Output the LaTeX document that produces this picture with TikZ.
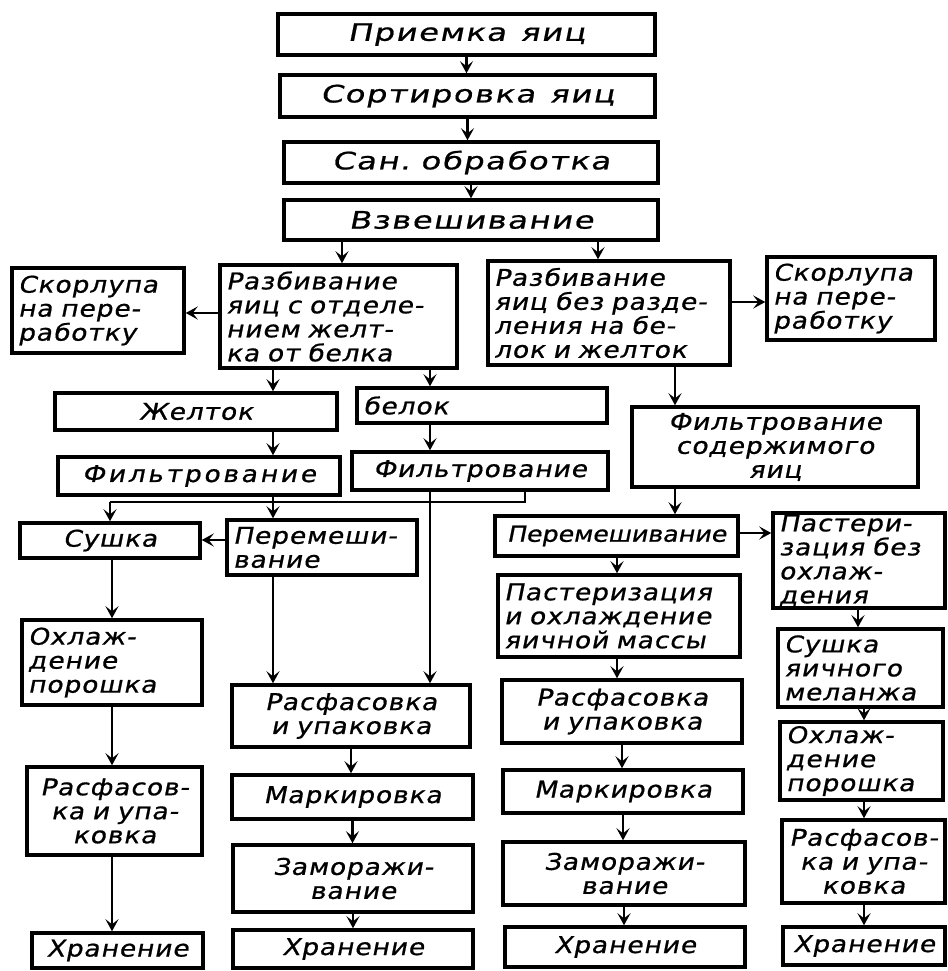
\documentclass[tikz,border=0pt]{standalone}
\usepackage{fontspec}
\setmainfont{DejaVu Sans}[FakeSlant=0.2,FakeStretch=1.15,LetterSpace=4,FakeBold=0.8]
\usetikzlibrary{arrows.meta}
\tikzset{
  box/.style={draw=black, line width=3.5pt, rectangle, inner xsep=6pt, inner ysep=1pt,
    font=\fontsize{23}{24}\selectfont, fill=white},
  widetext/.style={font=\fontsize{24}{24}\selectfont\addfontfeature{FakeStretch=1.35,LetterSpace=6}},
  ln/.style={line width=2.6pt},
  arr/.style={ln, -{Stealth[length=12pt,width=13pt,inset=5pt]}},
}
\newcommand\flowbox[7][]{%
  \pgfmathsetmacro\fbw{#5-#3}%
  \pgfmathsetmacro\fbh{#6-#4}%
  \pgfmathsetmacro\fbt{#5-#3-12}%
  \node[box, align=center, minimum width=\fbw pt, minimum height=\fbh pt,
    text width=\fbt pt, #1] (#2) at ({(#3+#5)/2},{(#4+#6)/2}) {#7};}
\begin{document}
\begin{tikzpicture}[x=1pt,y=-1pt]
\useasboundingbox[fill=white] (0,0) rectangle (947,971);
% boxes
\flowbox[widetext]{n1}{278}{14}{655}{55}{Приемка\hspace{14pt}яиц}
\flowbox[widetext]{n2}{280}{75}{655}{117}{Сортировка\hspace{14pt}яиц}
\flowbox[widetext]{n3}{284}{142}{658}{183}{Сан.\hspace{10pt}обработка}
\flowbox[widetext]{n4}{284}{200}{658}{240}{Взвешивание}
\flowbox[align=left]{n5}{220}{265}{457}{368}{Разбивание\\яиц с отделе-\\нием желт-\\ка от белка}
\flowbox[align=left]{n6}{12}{268}{184}{353}{Скорлупа\\на пере-\\работку}
\flowbox[align=left]{n7}{488}{261}{730}{365}{Разбивание\\яиц без разде-\\ления на бе-\\лок и желток}
\flowbox[align=left]{n8}{767}{257}{935}{340}{Скорлупа\\на пере-\\работку}
\flowbox{n9}{55}{393}{337}{430}{Желток}
\flowbox[align=left]{n10}{357}{388}{607}{423}{белок}
\flowbox[font=\fontsize{23}{24}\selectfont\addfontfeature{LetterSpace=12}]{n11}{58}{457}{340}{495}{Фильтрование}
\flowbox{n12}{352}{452}{608}{490}{Фильтрование}
\flowbox{n13}{632}{407}{918}{487}{Фильтрование\\содержимого\\яиц}
\flowbox{n14}{20}{523}{200}{558}{Сушка}
\flowbox[align=left]{n15}{227}{520}{417}{575}{Перемеши-\\вание}
\flowbox[font=\fontsize{22}{24}\selectfont\addfontfeature{LetterSpace=0}]{n16}{495}{516}{738}{556}{Перемешивание}
\flowbox[align=left]{n17}{773}{513}{945}{608}{Пастери-\\зация без\\охлаж-\\дения}
\flowbox[align=left]{n18}{22}{620}{202}{705}{Охлаж-\\дение\\порошка}
\flowbox[align=left]{n19}{498}{575}{740}{657}{Пастеризация\\и охлаждение\\яичной массы}
\flowbox[align=left]{n20}{778}{629}{943}{707}{Сушка\\яичного\\меланжа}
\flowbox{n21}{232}{685}{470}{747}{Расфасовка\\и упаковка}
\flowbox{n22}{502}{680}{742}{743}{Расфасовка\\и упаковка}
\flowbox[align=left]{n23}{780}{722}{943}{800}{Охлаж-\\дение\\порошка}
\flowbox{n24}{27}{767}{202}{855}{Расфасов-\\ка и упа-\\ковка}
\flowbox{n25}{232}{775}{473}{819}{Маркировка}
\flowbox{n26}{503}{770}{743}{813}{Маркировка}
\flowbox{n27}{782}{820}{945}{903}{Расфасов-\\ка и упа-\\ковка}
\flowbox{n28}{233}{845}{473}{912}{Заморажи-\\вание}
\flowbox{n29}{503}{842}{745}{905}{Заморажи-\\вание}
\flowbox{n30}{32}{933}{203}{968}{Хранение}
\flowbox{n31}{233}{930}{473}{968}{Хранение}
\flowbox{n32}{505}{927}{745}{967}{Хранение}
\flowbox{n33}{783}{927}{945}{965}{Хранение}
% x / y reference coordinates
\coordinate (c342) at (342,0);
\coordinate (c598) at (598,0);
\coordinate (c273) at (273,0);
\coordinate (c430) at (430,0);
\coordinate (c675) at (675,0);
\coordinate (c617) at (617,0);
\coordinate (c112) at (112,0);
\coordinate (c858) at (858,0);
\coordinate (c864) at (864,0);
\coordinate (r313) at (0,313);
\coordinate (r302) at (0,302);
\coordinate (r540) at (0,540);
\coordinate (r533) at (0,533);
\coordinate (busL) at (110,502);
\coordinate (busR) at (525,502);
% connectors
\draw[arr] (n1.south) -- (n1.south |- n2.north);
\draw[arr] (n2.south) -- (n2.south |- n3.north);
\draw[arr] (n3.south) -- (n3.south |- n4.north);
\draw[arr] (n4.south -| c342) -- (n5.north -| c342);
\draw[arr] (n4.south -| c598) -- (n7.north -| c598);
\draw[arr] (n5.west |- r313) -- (n6.east |- r313);
\draw[arr] (n7.east |- r302) -- (n8.west |- r302);
\draw[arr] (n5.south -| c273) -- (n9.north -| c273);
\draw[arr] (n5.south -| c430) -- (n10.north -| c430);
\draw[arr] (n9.south -| c273) -- (n11.north -| c273);
\draw[arr] (n10.south -| c430) -- (n12.north -| c430);
\draw[arr] (n7.south -| c675) -- (n13.north -| c675);
\draw[ln] (n12.south -| busR) -- (busR) -- (busL);
\draw[arr] (busL) -- (busL |- n14.north);
\draw[arr] (n11.south -| c273) -- (n15.north -| c273);
\draw[arr] (n12.south -| c430) -- (n21.north -| c430);
\draw[arr] (n15.west |- r540) -- (n14.east |- r540);
\draw[arr] (n14.south -| c112) -- (n18.north -| c112);
\draw[arr] (n15.south -| c273) -- (n21.north -| c273);
\draw[arr] (n18.south -| c112) -- (n24.north -| c112);
\draw[arr] (n24.south -| c112) -- (n30.north -| c112);
\draw[arr] (n21.south) -- (n21.south |- n25.north);
\draw[arr] (n25.south) -- (n25.south |- n28.north);
\draw[arr] (n28.south) -- (n28.south |- n31.north);
\draw[arr] (n13.south -| c675) -- (n16.north -| c675);
\draw[arr] (n16.east |- r533) -- (n17.west |- r533);
\draw[arr] (n16.south -| c617) -- (n19.north -| c617);
\draw[arr] (n19.south -| c617) -- (n22.north -| c617);
\draw[arr] (n22.south) -- (n22.south |- n26.north);
\draw[arr] (n26.south) -- (n26.south |- n29.north);
\draw[arr] (n29.south) -- (n29.south |- n32.north);
\draw[arr] (n17.south -| c858) -- (n20.north -| c858);
\draw[arr] (n20.south -| c864) -- (n23.north -| c864);
\draw[arr] (n23.south -| c864) -- (n27.north -| c864);
\draw[arr] (n27.south -| c864) -- (n33.north -| c864);
\end{tikzpicture}
\end{document}
